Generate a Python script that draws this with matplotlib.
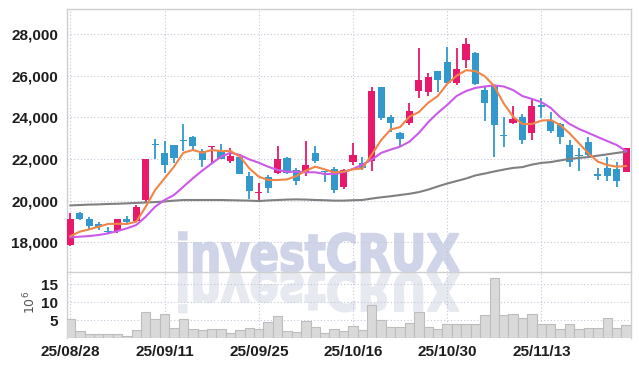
#!/usr/bin/env python3
"""
Daily candlestick chart (25/08/28 - 25/11/26) with three moving average
lines and a volume panel underneath, plus the investCRUX watermark.

Run:  python3 plot.py   -> writes out.png
"""

import matplotlib
matplotlib.use("Agg")
import matplotlib.pyplot as plt
from matplotlib.font_manager import FontProperties, findfont
from matplotlib.patches import PathPatch
from matplotlib.textpath import TextPath
from matplotlib.ticker import FuncFormatter
from matplotlib.transforms import Affine2D, IdentityTransform

# ---- data (KRW, volume in 10^6) ----
OPEN  = [17890, 19420, 19120, 18860, 18560, 18560, 19120, 19000, 20050, 22720,
         22290, 22660, 22910, 23050, 22370, 22560, 22400, 21920, 22110, 21180,
         20370, 21150, 21340, 22060, 21470, 21310, 22290, 21410, 21500, 20670,
         21870, 21790, 21900, 25440, 24000, 23260, 23740, 25280, 25210, 26220,
         26640, 25660, 26760, 27090, 25310, 25550, 23150, 23740, 24000, 23260,
         24590, 23840, 23680, 22670, 22190, 22830, 21280, 21580, 21520, 21390]
HIGH  = [19420, 19450, 19210, 18990, 18720, 19120, 19280, 19800, 22010, 22960,
         22860, 22670, 23660, 23120, 22460, 22640, 22700, 22510, 22220, 21390,
         20860, 21230, 22640, 22110, 21550, 22860, 22640, 21440, 21600, 21500,
         22750, 22110, 25470, 25440, 24110, 23310, 24700, 27310, 26110, 26220,
         27360, 27340, 27790, 27120, 25450, 25550, 24030, 24540, 24140, 24910,
         24910, 24240, 23710, 22910, 22530, 23070, 21580, 22110, 21870, 22510]
LOW   = [17840, 19070, 18620, 18590, 18380, 18450, 18860, 18960, 19890, 21980,
         21310, 21830, 22380, 22430, 21600, 21810, 21980, 21790, 21260, 20060,
         19950, 20380, 21280, 21280, 20740, 21180, 21790, 20910, 20380, 20540,
         21710, 21470, 21420, 23870, 23310, 22640, 23630, 24910, 25020, 25210,
         25630, 25550, 26370, 25550, 23810, 22080, 22560, 23680, 22700, 22910,
         23950, 23230, 22700, 21630, 21440, 22140, 20990, 20960, 20670, 21390]
CLOSE = [19120, 19120, 18780, 18720, 18510, 19120, 18990, 19680, 21980, 22690,
         21730, 22070, 22840, 22640, 21970, 22620, 22000, 22140, 21280, 20480,
         20400, 20590, 21980, 21310, 20960, 21710, 21900, 21360, 20510, 21470,
         22190, 21550, 25260, 23980, 23740, 22940, 24300, 25790, 25930, 25790,
         25660, 26320, 27520, 25600, 24700, 23630, 23090, 23920, 22910, 24540,
         24510, 23360, 23040, 21870, 22120, 22190, 21160, 21200, 20940, 22510]

# moving average lines as drawn on the chart
MA_ORANGE = [18300, 18510, 18620, 18750, 18880, 18890, 18880, 18990, 19710, 20510,
             21070, 21630, 22300, 22430, 22300, 22430, 22380, 22380, 22110, 21550,
             21150, 20990, 20990, 21020, 21180, 21440, 21630, 21500, 21360, 21390,
             21500, 21550, 22210, 22910, 23410, 23530, 24030, 24250, 24700, 25020,
             25600, 25990, 26260, 26220, 25970, 25500, 24670, 24030, 23680, 23680,
             23840, 23870, 23630, 23230, 22750, 22270, 21870, 21710, 21630, 21660]
MA_VIOLET = [18240, 18270, 18300, 18350, 18430, 18540, 18670, 18830, 19230, 19710,
             20030, 20270, 20670, 21070, 21440, 21780, 22110, 22300, 22190, 21980,
             21820, 21630, 21470, 21390, 21390, 21360, 21360, 21280, 21280, 21370,
             21520, 21730, 21970, 22290, 22450, 22590, 22830, 23250, 23770, 24210,
             24590, 25020, 25260, 25410, 25480, 25530, 25480, 25310, 25020, 24880,
             24730, 24450, 24010, 23680, 23440, 23250, 23050, 22860, 22670, 22380]
MA_GRAY   = [19770, 19790, 19810, 19820, 19840, 19850, 19870, 19890, 19910, 19930,
             19960, 20000, 20030, 20030, 20030, 20030, 20030, 20020, 20010, 20000,
             19980, 20010, 20030, 20050, 20060, 20050, 20030, 20020, 20000, 20000,
             20020, 20030, 20100, 20160, 20210, 20270, 20330, 20410, 20530, 20680,
             20820, 20940, 21060, 21210, 21300, 21400, 21490, 21570, 21610, 21730,
             21810, 21850, 21930, 22000, 22050, 22090, 22160, 22220, 22290, 22350]

VOLUME = [5.4, 2.1, 1.2, 1.2, 1.2, 1.1, 0.7, 2.3, 7.3, 5.4,
          6.8, 2.8, 5.4, 2.6, 2.3, 2.6, 2.6, 1.4, 2.3, 2.8,
          2.6, 4.5, 6.3, 2.1, 1.8, 4.9, 3.1, 1.6, 2.5, 2.1,
          3.4, 2.3, 9.2, 5.0, 3.1, 3.1, 4.2, 7.3, 3.1, 2.5,
          4.0, 4.0, 4.0, 4.0, 6.5, 16.8, 6.5, 6.8, 5.6, 6.8,
          4.0, 4.0, 2.6, 4.0, 2.6, 2.8, 2.8, 5.6, 2.8, 3.7]

DATE_TICKS  = [0, 10, 20, 30, 40, 50]
DATE_LABELS = ["25/08/28", "25/09/11", "25/09/25",
               "25/10/16", "25/10/30", "25/11/13"]
PRICE_TICKS = [18000, 20000, 22000, 24000, 26000, 28000]
VOL_TICKS   = [5, 10, 15]

UP_COLOR   = "#e8196a"
DOWN_COLOR = "#3399cc"
GRID_KW    = dict(color="#c3c7da", linestyle=(0, (1, 2)), linewidth=0.8)
SPINE_COL  = "#cfcfcf"

W_PX, H_PX = 639, 366

plt.rcParams["font.family"] = ["Liberation Sans Narrow", "Liberation Sans",
                               "DejaVu Sans"]


def frac(left, top, right, bottom):
    # pixel box (from the top-left corner) -> add_axes rectangle
    return [left / W_PX, 1 - bottom / H_PX,
            (right - left) / W_PX, (bottom - top) / H_PX]


def draw_watermark(fig):
    bold_file = findfont(FontProperties(family="DejaVu Sans", weight="bold"))
    tp = TextPath((0, 0), "investCRUX", size=100,
                  prop=FontProperties(fname=bold_file))
    bb = tp.get_extents()
    sx = (459 - 179) / bb.width
    sy = 39.0 / bb.y1
    # the text itself, stroked a bit to get the heavy look
    tr = Affine2D().translate(-bb.x0, 0).scale(sx, sy).translate(179, H_PX - 271.2)
    fig.add_artist(PathPatch(tr.transform_path(tp), facecolor="#cfd4e8",
                             edgecolor="#cfd4e8", linewidth=1.4,
                             transform=IdentityTransform(), zorder=-1))
    # mirrored reflection under it
    tr = Affine2D().translate(-bb.x0, 0).scale(sx, -sy).translate(179, H_PX - 273.5)
    fig.add_artist(PathPatch(tr.transform_path(tp), facecolor="#e7e9f1",
                             edgecolor="#e7e9f1", linewidth=1.4,
                             transform=IdentityTransform(), zorder=-1))


def draw_candles(ax):
    xs = range(len(OPEN))
    for i in xs:
        o, h, l, c = OPEN[i], HIGH[i], LOW[i], CLOSE[i]
        col = UP_COLOR if c >= o else DOWN_COLOR
        ax.vlines(i, l, h, color=col, linewidth=1.3, zorder=3)
        body = max(abs(c - o), 45)
        ax.bar(i, body, bottom=min(o, c), width=0.76, color=col,
               linewidth=0, zorder=3)

    ax.plot(xs, MA_GRAY, color="#808080", linewidth=1.5, zorder=4)
    ax.plot(xs, MA_VIOLET, color="#cc5ae8", linewidth=1.5, zorder=4)
    ax.plot(xs, MA_ORANGE, color="#f08548", linewidth=1.5, zorder=4)


def main():
    fig = plt.figure(figsize=(W_PX / 100, H_PX / 100), dpi=100)
    fig.patch.set_facecolor("white")

    ax  = fig.add_axes(frac(66.7, 9.3, 630.7, 272.3))
    axv = fig.add_axes(frac(66.7, 272.3, 630.7, 338.3), sharex=ax)
    for a in (ax, axv):
        a.set_facecolor("none")
        for s in a.spines.values():
            s.set_color(SPINE_COL)
            s.set_linewidth(1.0)
        a.tick_params(length=0, labelsize=11, labelcolor="#1e1e1e", pad=6)
        a.grid(True, **GRID_KW)
        a.set_axisbelow(True)

    draw_watermark(fig)
    draw_candles(ax)

    axv.bar(range(len(VOLUME)), VOLUME, width=1.0, color="#d9d9d9",
            edgecolor="#bdbdbd", linewidth=0.8, zorder=3)

    ax.set_xlim(-0.39, 59.49)
    ax.set_ylim(16560, 29184)
    ax.set_yticks(PRICE_TICKS)
    ax.yaxis.set_major_formatter(FuncFormatter(lambda v, _: f"{v:,.0f}"))
    ax.tick_params(labelbottom=False)

    axv.set_ylim(0, 18.33)
    axv.set_yticks(VOL_TICKS)
    axv.set_xticks(DATE_TICKS)
    axv.set_xticklabels(DATE_LABELS)
    axv.spines["top"].set_visible(False)
    axv.spines["bottom"].set_visible(False)
    axv.tick_params(axis="x", pad=5)

    for lab in ax.get_yticklabels() + axv.get_yticklabels() + axv.get_xticklabels():
        lab.set_fontweight("bold")

    fig.text(30.5 / W_PX, 1 - 302 / H_PX, r"$10^6$", rotation=90,
             ha="center", va="center", fontsize=9, color="#555555",
             family="DejaVu Serif")

    fig.savefig("out.png", dpi=100)
    plt.close(fig)
    return 0


if __name__ == "__main__":
    raise SystemExit(main())
